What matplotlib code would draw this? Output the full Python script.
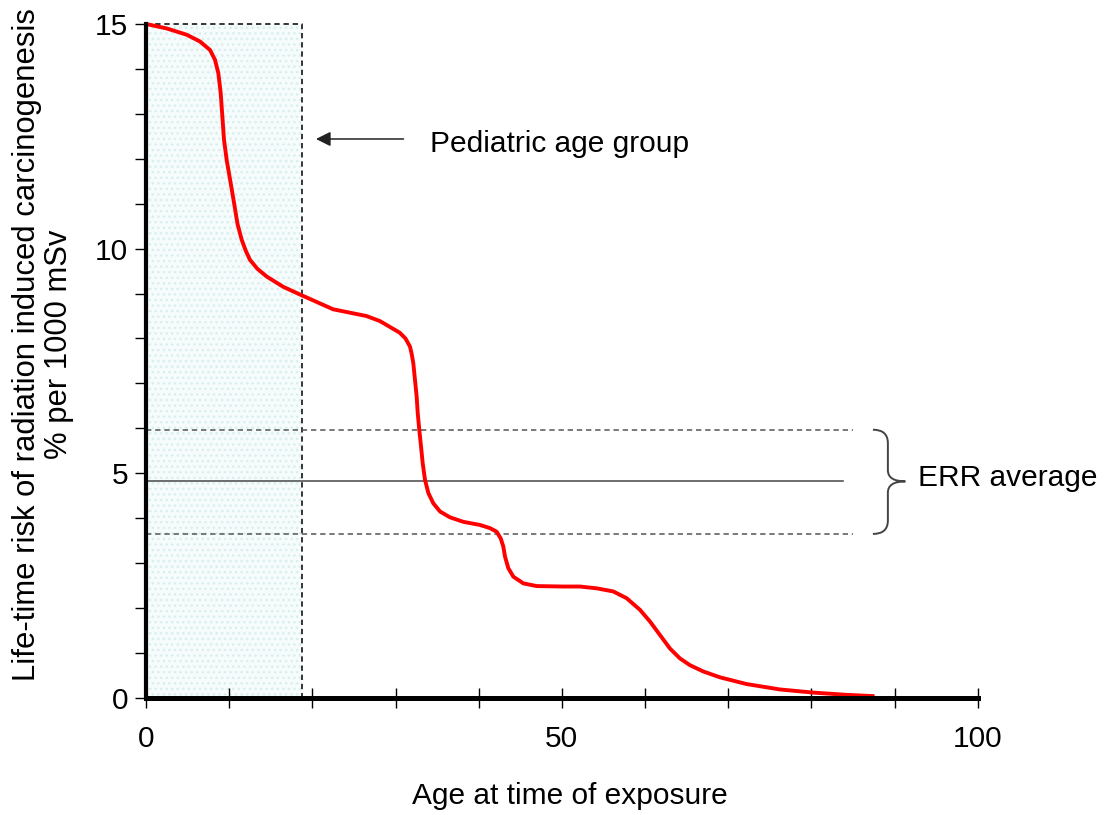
import matplotlib.pyplot as plt
from matplotlib.patches import Rectangle, PathPatch
from matplotlib.path import Path

plt.rcParams['font.family'] = ['Liberation Sans', 'DejaVu Sans']

# curve
age = [0, 2.49, 4.89, 6.49, 7.7, 8.3, 8.7, 8.98, 9.18, 9.38, 9.7, 10.18,
       10.6, 11.0, 11.5, 12.0, 12.5, 13.4, 14.5, 16.5, 18.5, 22.5, 26.5,
       28.1, 30.5, 31.2, 31.74, 31.95, 32.14, 32.34, 32.54, 32.67, 32.86,
       33.07, 33.27, 33.55, 33.95, 34.55, 35.35, 36.55, 38.15, 40.16,
       41.36, 42.16, 42.65, 42.96, 43.16, 43.56, 44.16, 45.37, 46.98,
       50.17, 52.18, 54.19, 56.19, 57.79, 59.4, 60.6, 61.8, 63.0, 64.2,
       65.4, 67.0, 69.0, 72.2, 76.2, 80.2, 84.2, 87.6]
risk = [15.0, 14.9, 14.76, 14.61, 14.42, 14.2, 13.9, 13.46, 12.94, 12.42,
        11.97, 11.46, 11.0, 10.55, 10.2, 9.95, 9.75, 9.55, 9.38, 9.15, 8.98,
        8.65, 8.5, 8.39, 8.13, 8.0, 7.82, 7.65, 7.45, 7.08, 6.71, 6.34,
        5.96, 5.59, 5.22, 4.85, 4.56, 4.33, 4.15, 4.02, 3.92, 3.85, 3.78,
        3.7, 3.55, 3.37, 3.15, 2.89, 2.7, 2.55, 2.49, 2.48, 2.48, 2.44,
        2.37, 2.22, 1.96, 1.7, 1.4, 1.1, 0.88, 0.73, 0.59, 0.46, 0.31,
        0.19, 0.12, 0.07, 0.04]

pediatric_max = 18.7
err_mean = 4.82
err_upper = 5.97
err_lower = 3.65

xticks = list(range(0, 101, 10))
xtick_labels = ['0', '', '', '', '', '50', '', '', '', '', '100']
yticks = list(range(0, 16))
ytick_labels = ['0', '', '', '', '', '5', '', '', '', '', '10', '', '', '', '', '15']

fs = 21.5

fig = plt.figure(figsize=(11.07, 8.15), dpi=100)
ax = fig.add_axes([0.1319, 0.1436, 0.7513, 0.8270])
ax.set_xlim(0, 100)
ax.set_ylim(0, 15)

# pediatric shaded box
ax.add_patch(Rectangle((0, 0), pediatric_max, 15, facecolor='#f6fbfb',
                       edgecolor='#d9eeee', hatch='...', lw=0, zorder=1))
ax.plot([0, pediatric_max, pediatric_max], [15, 15, 0], color='black',
        lw=1.1, dashes=(3.5, 2.5), clip_on=False, zorder=2)

# ERR lines
ax.plot([0, 85], [err_upper, err_upper], color='#555555', lw=1.1, dashes=(3.5, 2.5), zorder=2)
ax.plot([0, 85], [err_lower, err_lower], color='#555555', lw=1.1, dashes=(3.5, 2.5), zorder=2)
ax.plot([0, 83.8], [err_mean, err_mean], color='#555555', lw=1.2, zorder=2)

# brace
bx0, bs, bt = 87.4, 89.2, 91.3
hk, tp = 0.3, 0.25
verts = [(bx0, err_upper), (bs, err_upper), (bs, err_upper - hk),
         (bs, err_mean + tp),
         (bs, err_mean), (bt, err_mean),
         (bs, err_mean), (bs, err_mean - tp),
         (bs, err_lower + hk),
         (bs, err_lower), (bx0, err_lower)]
codes = [Path.MOVETO, Path.CURVE3, Path.CURVE3, Path.LINETO,
         Path.CURVE3, Path.CURVE3, Path.CURVE3, Path.CURVE3,
         Path.LINETO, Path.CURVE3, Path.CURVE3]
ax.add_patch(PathPatch(Path(verts, codes), fill=False, edgecolor='#444444',
                       lw=1.4, zorder=3))
ax.text(92.8, 4.9, 'ERR average', fontsize=fs, va='center', ha='left')

# pediatric annotation
ax.annotate('', xy=(20.1, 12.44), xytext=(31.3, 12.44),
            arrowprops=dict(arrowstyle='-|>', color='#222222', lw=1.1,
                            mutation_scale=22))
ax.text(34.1, 12.33, 'Pediatric age group', fontsize=fs, va='center', ha='left')

# curve
ax.plot(age, risk, color='#ff0000', lw=2.8, clip_on=False, zorder=5,
        solid_joinstyle='round', solid_capstyle='butt')

for s in ['top', 'right']:
    ax.spines[s].set_visible(False)
ax.spines['left'].set_linewidth(3)
ax.spines['bottom'].set_linewidth(3.6)
ax.spines['left'].set_zorder(6)
ax.spines['bottom'].set_zorder(6)

ax.set_xticks(xticks)
ax.set_xticklabels(xtick_labels)
ax.set_yticks(yticks)
ax.set_yticklabels(ytick_labels)
ax.tick_params(axis='x', direction='inout', length=15, width=1.0, pad=12, labelsize=fs)
ax.tick_params(axis='y', direction='out', length=8, width=1.0, pad=5, labelsize=fs)

ax.set_xlabel('Age at time of exposure', fontsize=fs)
ax.xaxis.set_label_coords(0.51, -0.125)
ax.set_ylabel('Life-time risk of radiation induced carcinogenesis\n% per 1000 mSv',
              fontsize=22.3, linespacing=1.1)
ax.yaxis.set_label_coords(-0.086, 0.525)

fig.savefig('out.png', dpi=100)
